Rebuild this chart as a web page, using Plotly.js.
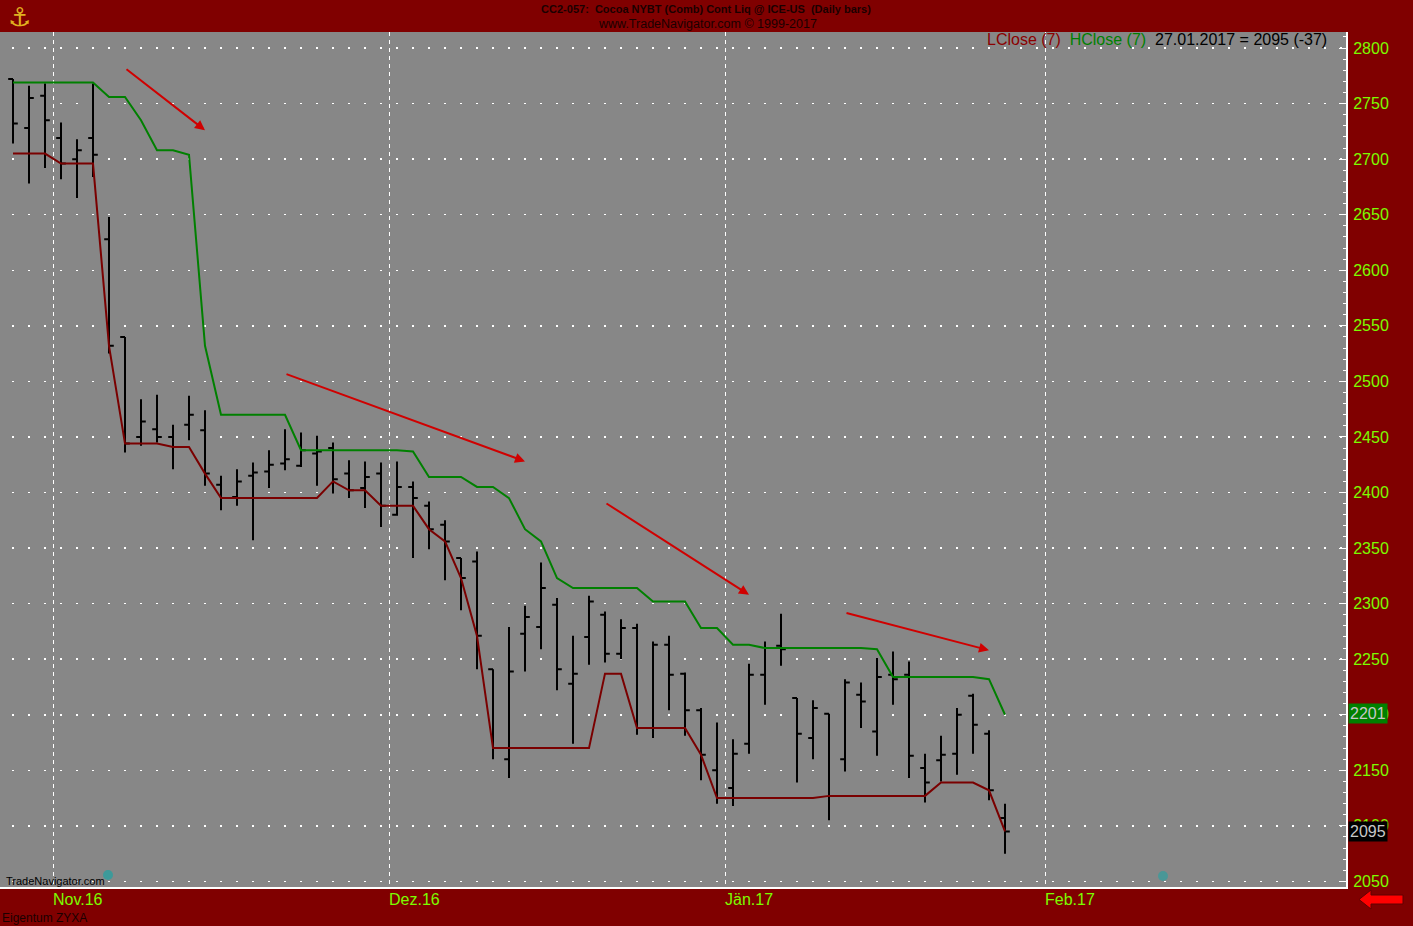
<!DOCTYPE html>
<html>
<head>
<meta charset="utf-8">
<script src="https://cdn.plot.ly/plotly-3.0.1.min.js"></script>
<style>
  html, body { margin: 0; padding: 0; background: #800000; }
  #chart { width: 1413px; height: 926px; }
</style>
</head>
<body>
<div id="chart"></div>
<script>
// ---------------- DATA ----------------
const dates = [
  '2016-10-27','2016-10-28','2016-10-31',
  '2016-11-01','2016-11-02','2016-11-03','2016-11-04','2016-11-07','2016-11-08','2016-11-09','2016-11-10','2016-11-11',
  '2016-11-14','2016-11-15','2016-11-16','2016-11-17','2016-11-18','2016-11-21','2016-11-22','2016-11-23','2016-11-25',
  '2016-11-28','2016-11-29','2016-11-30',
  '2016-12-01','2016-12-02','2016-12-05','2016-12-06','2016-12-07','2016-12-08','2016-12-09','2016-12-12','2016-12-13',
  '2016-12-14','2016-12-15','2016-12-16','2016-12-19','2016-12-20','2016-12-21','2016-12-22','2016-12-23','2016-12-27',
  '2016-12-28','2016-12-29','2016-12-30',
  '2017-01-03','2017-01-04','2017-01-05','2017-01-06','2017-01-09','2017-01-10','2017-01-11','2017-01-12','2017-01-13',
  '2017-01-17','2017-01-18','2017-01-19','2017-01-20','2017-01-23','2017-01-24','2017-01-25','2017-01-26','2017-01-27'
];
const openPrices = [2772,2728,2757,2719,2700,2719,2628,2540,2450,2457,2450,2461,2456,2407,2396,2415,2419,2426,2424,2435,
  2440,2417,2404,2417,2380,2405,2388,2371,2341,2338,2241,2160,2273,2279,2299,2228,2270,2290,2255,2278,
  2188,2263,2237,2204,2150,2134,2174,2236,2262,2215,2179,2201,2160,2218,2185,2236,2236,2152,2159,2165,
  2217,2183,2107];
const highPrices = [2772,2766,2768,2733,2718,2768,2648,2540,2484,2488,2461,2487,2474,2415,2421,2427,2438,2457,2454,2451,
  2445,2429,2428,2427,2428,2410,2392,2375,2341,2347,2241,2279,2298,2337,2305,2271,2307,2293,2286,2282,
  2266,2271,2238,2206,2193,2178,2246,2266,2291,2215,2213,2201,2232,2229,2251,2257,2248,2165,2181,2206,
  2219,2186,2120];
const lowPrices = [2714,2678,2692,2682,2665,2684,2525,2436,2442,2445,2421,2447,2406,2384,2388,2357,2404,2420,2423,2406,
  2399,2395,2386,2369,2379,2341,2349,2321,2294,2241,2160,2143,2239,2259,2222,2174,2245,2247,2250,2182,
  2179,2204,2181,2141,2120,2118,2165,2209,2244,2139,2160,2105,2149,2188,2163,2209,2143,2121,2140,2146,
  2165,2123,2075];
const closePrices = [2732,2755,2735,2696,2708,2704,2532,2444,2464,2450,2441,2470,2417,2395,2410,2418,2425,2430,2438,2437,
  2412,2402,2414,2388,2405,2395,2367,2356,2323,2271,2170,2239,2288,2314,2241,2237,2302,2255,2278,2188,
  2263,2236,2204,2164,2125,2165,2236,2260,2259,2183,2206,2127,2229,2212,2234,2232,2163,2139,2164,2200,
  2191,2132,2095];
// HClose(7) and LClose(7)
const hClose7 = [2769,2769,2769,2769,2769,2769,2756,2756,2735,2708,2708,2704,2532,2470,2470,2470,2470,2470,
  2438,2438,2438,2438,2438,2438,2438,2437,2414,2414,2414,2405,2405,2395,2367,2356,2323,
  2314,2314,2314,2314,2314,2302,2302,2302,2278,2278,2263,2263,
  2260,2260,2260,2260,2260,2260,2260,2259,2234,2234,2234,2234,2234,2234,2232,2200];
const lClose7 = [2705,2705,2705,2696,2696,2696,2532,2444,2444,2444,2441,2441,2417,
  2395,2395,2395,2395,2395,2395,2395,2410,2402,2402,2388,2388,2388,2367,2356,2323,2271,
  2170,2170,2170,2170,2170,2170,2170,2237,2237,2188,2188,2188,2188,2164,
  2125,2125,2125,2125,2125,2125,2125,2127,2127,2127,2127,2127,2127,2127,2139,2139,2139,2132,2095];

// month axis labels
const monthLabels = ['Nov.16','Dez.16','Jän.17','Feb.17'];
const monthFirstDays = ['2016-11-01','2016-12-01','2017-01-03','2017-02-01'];
const holidays = ['2016-11-24','2016-12-26','2017-01-02','2017-01-16'];

// hand-drawn trend arrows (trading-day index, price)
const arrowFromIdx = [7, 17, 37, 52];
const arrowFromVal = [2782, 2507, 2391, 2292];
const arrowToIdx   = [12, 32, 46, 61];
const arrowToVal   = [2726, 2428, 2308, 2258];

const yTickStart = 2050, yTickStep = 50;
const lastDateLabel = '27.01.2017';
const lastChange = -37;

// ---------------- HELPERS ----------------
const idx = dates.map((d, i) => i);
function tradingIndex(ds) {
  const start = new Date(dates[0] + 'T12:00:00Z');
  const end = new Date(ds + 'T12:00:00Z');
  let n = 0;
  for (let d = new Date(start); d < end; d.setUTCDate(d.getUTCDate() + 1)) {
    const wd = d.getUTCDay();
    const iso = d.toISOString().slice(0, 10);
    if (wd !== 0 && wd !== 6 && holidays.indexOf(iso) < 0) n++;
  }
  return n;
}
const monthPos = monthFirstDays.map(d => tradingIndex(d) - 0.5);

const FONT = 'Liberation Sans, Arial, sans-serif';
const NARROW = 'Liberation Sans Narrow, Arial Narrow, Liberation Sans, Arial, sans-serif';
const W = 1413, H = 926;
const M = { l: 0, r: 67, t: 32, b: 39 };
const PW = W - M.l - M.r, PH = H - M.t - M.b;
const px = x => (x - M.l) / PW;
const py = y => (H - M.b - y) / PH;

// ---------------- TRACES ----------------
const traces = [
  {
    type: 'ohlc', x: idx, open: openPrices, high: highPrices, low: lowPrices, close: closePrices,
    increasing: { line: { color: '#000000', width: 2 } },
    decreasing: { line: { color: '#000000', width: 2 } },
    tickwidth: 0.3, hoverinfo: 'skip', showlegend: false, name: 'Cocoa'
  },
  {
    type: 'scatter', mode: 'lines', x: idx, y: lClose7, name: 'LClose (7)',
    line: { color: '#7a0000', width: 2 }, hoverinfo: 'skip', showlegend: false
  },
  {
    type: 'scatter', mode: 'lines', x: idx, y: hClose7, name: 'HClose (7)',
    line: { color: '#008000', width: 2 }, hoverinfo: 'skip', showlegend: false
  }
];

// ---------------- ANNOTATIONS ----------------
const annotations = [];
for (let i = 0; i < arrowFromIdx.length; i++) {
  annotations.push({
    x: arrowToIdx[i], y: arrowToVal[i], xref: 'x', yref: 'y',
    ax: arrowFromIdx[i], ay: arrowFromVal[i], axref: 'x', ayref: 'y',
    showarrow: true, arrowhead: 2, arrowsize: 1, arrowwidth: 2, arrowcolor: '#d00000',
    standoff: 0, startstandoff: 0, text: ''
  });
}
monthLabels.forEach((t, i) => {
  annotations.push({
    x: monthPos[i], xref: 'x', y: py(899), yref: 'paper', text: t, showarrow: false, xshift: -2,
    xanchor: 'left', yanchor: 'middle', font: { family: FONT, size: 16, color: '#7cfc00' }
  });
});
const lastClose = closePrices[closePrices.length - 1];
annotations.push({
  x: px(1329), y: py(40), xref: 'paper', yref: 'paper', xanchor: 'right', yanchor: 'middle', showarrow: false,
  text: '<span style="color:#8b0000">LClose (7)</span>  <span style="color:#008000">HClose (7)</span>  ' +
        '<span style="color:#000000">' + lastDateLabel + ' = ' + lastClose + ' (' + lastChange + ')</span>',
  font: { family: FONT, size: 16, color: '#000000' }
});
annotations.push({
  x: px(707), y: py(24), xref: 'paper', yref: 'paper', xanchor: 'center', yanchor: 'middle', showarrow: false,
  text: 'www.TradeNavigator.com © 1999-2017', font: { family: NARROW, size: 12.5, color: '#1a0000' }
});
annotations.push({
  x: px(4), y: py(881), xref: 'paper', yref: 'paper', xanchor: 'left', yanchor: 'middle', showarrow: false,
  text: 'TradeNavigator.com', font: { family: NARROW, size: 11, color: '#000000' }
});
annotations.push({
  x: px(0), y: py(918), xref: 'paper', yref: 'paper', xanchor: 'left', yanchor: 'middle', showarrow: false,
  text: 'Eigentum ZYXA', font: { family: NARROW, size: 12, color: '#1a0000' }
});
annotations.push({
  x: px(19), y: py(17), xref: 'paper', yref: 'paper', xanchor: 'center', yanchor: 'middle', showarrow: false,
  text: '⚓', font: { family: 'DejaVu Sans, Noto Sans, sans-serif', size: 26, color: '#e0b020' }
});
const lastH = hClose7[hClose7.length - 1];
annotations.push({
  x: px(1348), y: lastH + 1, xref: 'paper', yref: 'y', xanchor: 'left', yanchor: 'middle', showarrow: false,
  text: String(lastH + 1), bgcolor: '#008000', borderpad: 1,
  font: { family: FONT, size: 16, color: '#c8c8c8' }
});
annotations.push({
  x: px(1348), y: lastClose, xref: 'paper', yref: 'y', xanchor: 'left', yanchor: 'middle', showarrow: false,
  text: String(lastClose), bgcolor: '#000000', borderpad: 1,
  font: { family: FONT, size: 16, color: '#c8c8c8' }
});

// ---------------- SHAPES ----------------
const arrowPts = [[1359, 899.5], [1371, 890], [1371, 895], [1403, 895], [1403, 904], [1371, 904], [1371, 909]];
const arrowPath = 'M' + arrowPts.map(p => px(p[0]) + ',' + py(p[1])).join(' L') + ' Z';
const shapes = [
  { type: 'path', xref: 'paper', yref: 'paper', path: arrowPath, fillcolor: '#ff0000', line: { color: '#600000', width: 1 } },
  { type: 'circle', xref: 'paper', yref: 'paper', x0: px(103), x1: px(113), y0: py(880), y1: py(870),
    fillcolor: 'rgba(0,170,170,0.55)', line: { width: 0 } },
  { type: 'circle', xref: 'paper', yref: 'paper', x0: px(1158), x1: px(1168), y0: py(881), y1: py(871),
    fillcolor: 'rgba(0,170,170,0.45)', line: { width: 0 } }
];

// ---------------- LAYOUT ----------------
const layout = {
  width: W, height: H,
  margin: M,
  paper_bgcolor: '#800000',
  plot_bgcolor: '#878787',
  showlegend: false,
  title: {
    text: '<b>CC2-057:  Cocoa NYBT (Comb) Cont Liq @ ICE-US  (Daily bars)</b>',
    font: { family: NARROW, size: 11, color: '#1a0000' },
    xref: 'container', yref: 'container', x: 706 / W, y: 1 - 9 / H, xanchor: 'center', yanchor: 'middle'
  },
  xaxis: {
    range: [-13 / 16, (PW - 13) / 16],
    tickmode: 'array', tickvals: monthPos, ticktext: monthLabels,
    showticklabels: false, ticks: '',
    showgrid: true, gridcolor: '#ffffff', gridwidth: 1, griddash: '4px,4px',
    showline: true, linecolor: '#ffffff', linewidth: 2,
    zeroline: false, rangeslider: { visible: false }, fixedrange: true
  },
  yaxis: {
    side: 'right',
    range: [2045, 2814.4],
    tick0: yTickStart, dtick: yTickStep,
    ticks: 'inside', ticklen: 7, tickwidth: 1, tickcolor: '#ffffff',
    minor: { dtick: 10, ticks: 'inside', ticklen: 3, tickcolor: '#ffffff', showgrid: false },
    showgrid: true, gridcolor: '#ffffff', gridwidth: 1.5, griddash: '0px,12px,2px,2px',
    showline: true, linecolor: '#ffffff', linewidth: 2,
    ticklabelstandoff: 2,
    tickfont: { family: FONT, size: 16, color: '#7cfc00' },
    zeroline: false, fixedrange: true
  },
  annotations: annotations,
  shapes: shapes
};

Plotly.newPlot('chart', traces, layout, { displayModeBar: false, staticPlot: true });
</script>
</body>
</html>
